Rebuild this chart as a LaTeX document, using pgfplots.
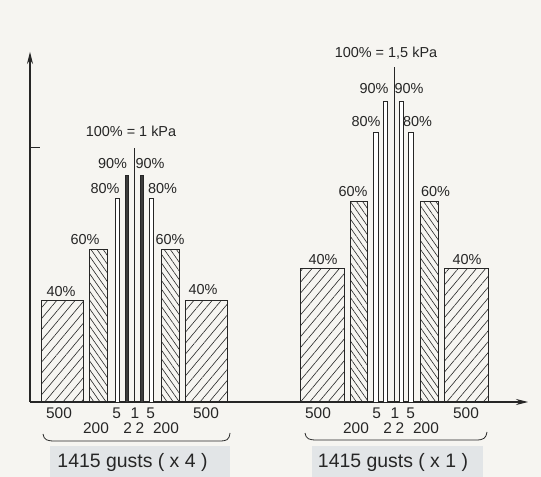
\documentclass[border=0pt]{standalone}
\usepackage{fontspec}
\setmainfont{Liberation Sans}
\usepackage{pgfplots}
\pgfplotsset{compat=1.18}
\usetikzlibrary{patterns.meta,arrows.meta}
\definecolor{paper}{RGB}{246,245,241}
\definecolor{ink}{RGB}{38,38,38}
\definecolor{boxgray}{RGB}{226,229,231}
\newcommand\lbl{\fontsize{14.5}{16}\selectfont}

\begin{document}
\begin{tikzpicture}[x=1bp,y=1bp]
\fill[paper] (-30,-75) rectangle (511,402);
\fill[boxgray] (20,-44) rectangle (200,-75);
\fill[boxgray] (282,-44) rectangle (453,-75);
\begin{axis}[
  at={(0,0)}, anchor=origin,
  x=1bp, y=254bp,
  xmin=0, xmax=498, ymin=0, ymax=1.378,
  axis lines=left,
  axis line style={ink, line width=1.1bp, -{Stealth[length=12bp,width=6bp]}},
  clip=false, no markers,
  xtick={29,86.7,105,120.7,176,288,346.7,365,380.7,436},
  xticklabels={500,5,1,5,500,500,5,1,5,500},
  extra x ticks={66,97.7,110,136,326,357.7,370,396},
  extra x tick labels={200,2,2,200,200,2,2,200},
  extra x tick style={xtick style={draw=none}, xticklabel style={yshift=-15bp}},
  xtick style={draw=none},
  xticklabel style={font=\fontsize{15.5}{16}\selectfont, text=ink, inner sep=0pt, yshift=-6bp},
  ytick={1}, yticklabels={},
  ytick style={ink, line width=1bp},
  tick align=inside, major tick length=10bp,
]
% left group (100% = 1 kPa)
\addplot[ink, line width=0.9bp, pattern={Lines[angle=50,distance=7bp,line width=0.6bp]}, pattern color=ink] coordinates {(11,0.40)(53,0.40)} \closedcycle;
\addplot[ink, line width=0.9bp, pattern={Lines[angle=-55,distance=5bp,line width=0.6bp]}, pattern color=ink] coordinates {(59,0.60)(77,0.60)} \closedcycle;
\addplot[ink, line width=0.9bp, fill=white] coordinates {(85,0.80)(89,0.80)} \closedcycle;
\addplot[ink, line width=0.9bp, fill=ink!90] coordinates {(95,0.89)(98,0.89)} \closedcycle;
\addplot[ink, line width=1bp] coordinates {(104,0)(104,1.0)};
\addplot[ink, line width=0.9bp, fill=ink!90] coordinates {(110,0.89)(113,0.89)} \closedcycle;
\addplot[ink, line width=0.9bp, fill=white] coordinates {(119,0.80)(123,0.80)} \closedcycle;
\addplot[ink, line width=0.9bp, pattern={Lines[angle=-55,distance=5bp,line width=0.6bp]}, pattern color=ink] coordinates {(131,0.60)(149,0.60)} \closedcycle;
\addplot[ink, line width=0.9bp, pattern={Lines[angle=50,distance=7bp,line width=0.6bp]}, pattern color=ink] coordinates {(155,0.40)(197,0.40)} \closedcycle;
% right group (100% = 1,5 kPa)
\addplot[ink, line width=0.9bp, pattern={Lines[angle=50,distance=7bp,line width=0.6bp]}, pattern color=ink] coordinates {(270,0.525)(314,0.525)} \closedcycle;
\addplot[ink, line width=0.9bp, pattern={Lines[angle=-55,distance=5bp,line width=0.6bp]}, pattern color=ink] coordinates {(320,0.79)(337,0.79)} \closedcycle;
\addplot[ink, line width=0.9bp, fill=white] coordinates {(343,1.06)(348,1.06)} \closedcycle;
\addplot[ink, line width=0.9bp, fill=white] coordinates {(353.5,1.185)(357,1.185)} \closedcycle;
\addplot[ink, line width=1bp] coordinates {(364,0)(364,1.32)};
\addplot[ink, line width=0.9bp, fill=white] coordinates {(369,1.185)(373,1.185)} \closedcycle;
\addplot[ink, line width=0.9bp, fill=white] coordinates {(378,1.06)(383,1.06)} \closedcycle;
\addplot[ink, line width=0.9bp, pattern={Lines[angle=-55,distance=5bp,line width=0.6bp]}, pattern color=ink] coordinates {(390,0.79)(408,0.79)} \closedcycle;
\addplot[ink, line width=0.9bp, pattern={Lines[angle=50,distance=7bp,line width=0.6bp]}, pattern color=ink] coordinates {(414,0.525)(458,0.525)} \closedcycle;

% bar labels
\begin{scope}[every node/.style={font=\lbl, text=ink, inner sep=0pt}]
\node at (axis cs:31,0.434) {40\%};
\node at (axis cs:55,0.638) {60\%};
\node at (axis cs:75,0.839) {80\%};
\node at (axis cs:82.5,0.937) {90\%};
\node at (axis cs:101,1.065) {100\% = 1 kPa};
\node at (axis cs:120,0.937) {90\%};
\node at (axis cs:132.5,0.839) {80\%};
\node at (axis cs:140,0.638) {60\%};
\node at (axis cs:173,0.441) {40\%};
\node at (axis cs:293,0.56) {40\%};
\node at (axis cs:323,0.829) {60\%};
\node at (axis cs:336,1.106) {80\%};
\node at (axis cs:344,1.235) {90\%};
\node at (axis cs:356,1.374) {100\% = 1,5 kPa};
\node at (axis cs:379,1.235) {90\%};
\node at (axis cs:387.5,1.106) {80\%};
\node at (axis cs:405.5,0.829) {60\%};
\node at (axis cs:437,0.56) {40\%};
\end{scope}
\end{axis}
% braces and group captions
\draw[ink, line width=0.8bp] (13,-32) .. controls (14,-38) and (17,-39) .. (25,-39) -- (189,-39) .. controls (197,-39) and (199,-38) .. (200,-31);
\draw[ink, line width=0.8bp] (275,-31) .. controls (276,-37) and (279,-38) .. (287,-38) -- (446,-38) .. controls (454,-38) and (456,-36) .. (457,-30);
\node[font=\fontsize{19.5}{21}\selectfont, text=ink] at (102.5,-60) {1415 gusts ( x 4 )};
\node[font=\fontsize{19.5}{21}\selectfont, text=ink] at (363,-60) {1415 gusts ( x 1 )};
\pgfresetboundingbox
\path[use as bounding box] (-30,-75) rectangle (511,402);
\end{tikzpicture}
\end{document}
